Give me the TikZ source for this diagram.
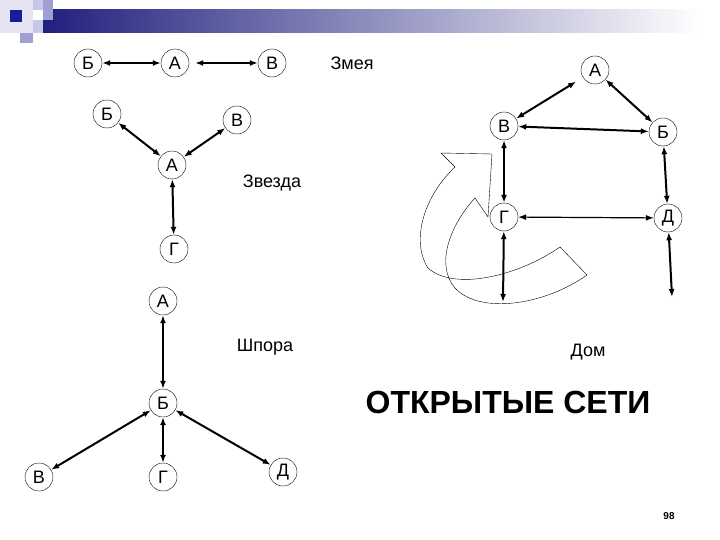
\documentclass[tikz,border=0pt]{standalone}
\usepackage{fontspec}
\setmainfont{Liberation Sans}
\usepackage{tikz}
\usetikzlibrary{arrows.meta,calc}
\definecolor{hdrnavy}{HTML}{20207E}
\definecolor{hdrdot}{HTML}{1A1AA0}
\definecolor{hdrpale}{HTML}{E4E4F2}
\definecolor{hdrlav}{HTML}{A0A0D0}
\definecolor{hdrlight}{HTML}{C8C8E6}

\begin{document}
\begin{tikzpicture}[x=1pt,y=-1pt,
  vertex/.style={draw,circle,thin,minimum size=28pt,inner sep=0pt,font=\fontsize{18}{18}\selectfont},
  link/.style={line width=2pt,{Latex[length=8pt,width=6pt]}-{Latex[length=8pt,width=6pt]}},
  thinlink/.style={line width=1.2pt,{Latex[length=8pt,width=6pt]}-{Latex[length=8pt,width=6pt]}},
  caption/.style={font=\fontsize{18}{18}\selectfont}]
\useasboundingbox (0,0) rectangle (720,540);
% header
\fill[white] (0,0) rectangle (720,540);
\shade[left color=hdrnavy,right color=white] (43,10) rectangle (700,33);
\fill[hdrpale] (0,0) rectangle (33,33);
\fill[hdrlight] (33,0) rectangle (53,10);
\fill[hdrlav] (43,0) rectangle (53,20);
\fill[hdrlight] (33,20) rectangle (43,33);
\fill[hdrlav] (20,33) rectangle (33,43);
\fill[hdrdot] (10,10) rectangle (22,22);

% Змея
\node[vertex] (s1) at (88,63) {Б};
\node[vertex] (s2) at (175,63) {А};
\node[vertex] (s3) at (272,63) {В};
\node[caption] (snake) at (352,63) {Змея};
\draw[link] (s1) -- (s2);
\draw[link,shorten <=6pt] (s2) -- (s3);

% Звезда
\node[vertex] (z1) at (107,114) {Б};
\node[vertex] (z2) at (237,120) {В};
\node[vertex] (z0) at (172,165) {А};
\node[vertex] (z3) at (174,249) {Г};
\node[caption] (star) at (272,183) {Звезда};
\draw[link] (z1) -- (z0);
\draw[link] (z2) -- (z0);
\draw[link] (z0) -- (z3);

% Шпора
\node[vertex] (p1) at (163,301) {А};
\node[vertex] (p0) at (163,403) {Б};
\node[vertex] (p2) at (39,477) {В};
\node[vertex] (p3) at (163,477) {Г};
\node[vertex] (p4) at (283,472) {Д};
\node[caption] (spur) at (265,347) {Шпора};
\draw[link] (p1) -- (p0);
\draw[link] (p0) -- (p2);
\draw[link] (p0) -- (p3);
\draw[link] (p0) -- (p4);

% Дом
\node[vertex] (h1) at (595,70) {А};
\node[vertex] (h2) at (504,126) {В};
\node[vertex] (h3) at (663,132) {Б};
\node[vertex] (h4) at (504,217) {Г};
\node[vertex] (h5) at (668,218) {Д};
\coordinate (hG) at (503,302);
\coordinate (hD) at (672,297);
\node[caption] (house) at (588,352) {Дом};
\draw[link,shorten <=8pt] (h1) -- (h2);
\draw[link] (h1) -- (h3);
\draw[link] (h2) -- (h3);
\draw[link] (h2) -- (h4);
\draw[link] (h3) -- (h5);
\draw[thinlink] (h4) -- (h5);
\draw[link] (h4) -- (hG);
\draw[link] (h5) -- (hD);

% curved block arrow
\draw[thin] (455,167) -- (441,153) -- (492,154) -- (488,217) -- (475,198)
  .. controls (450,225) and (435,265) .. (455,288)
  .. controls (480,315) and (545,305) .. (587,275) -- (560,247)
  .. controls (520,275) and (455,292) .. (428,268)
  .. controls (410,240) and (425,195) .. (455,167);

\node[font=\fontsize{32}{32}\selectfont\bfseries] (title) at (508,402) {ОТКРЫТЫЕ СЕТИ};
\node[font=\fontsize{10}{10}\selectfont\bfseries] (page) at (669,516) {98};
\end{tikzpicture}
\end{document}
